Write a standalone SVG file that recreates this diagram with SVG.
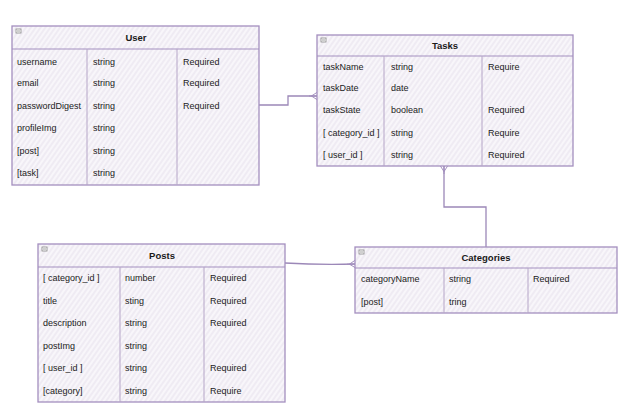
<svg xmlns="http://www.w3.org/2000/svg" width="626" height="416" viewBox="0 0 626 416">
<defs>
<pattern id="hatch" patternUnits="userSpaceOnUse" width="4" height="4" patternTransform="rotate(35)">
<rect width="4" height="4" fill="#f8f6fa"/>
<line x1="1" y1="0" x2="1" y2="4" stroke="#e7e1ec" stroke-width="1"/>
</pattern>
<marker id="crow" viewBox="0 0 10 10" refX="10" refY="5" markerWidth="8" markerHeight="8" orient="auto" markerUnits="userSpaceOnUse">
<path d="M0,5 L10,5 M3,5 L10,0.5 M3,5 L10,9.5" fill="none" stroke="#a08cbc" stroke-width="1.2"/>
</marker>
</defs>
<style>
.box{fill:url(#hatch);stroke:#a48fbf;stroke-width:1.3}
.hdr{fill:none;stroke:#a48fbf;stroke-width:1.2}
.col{stroke:#b6a6c8;stroke-width:1}
.t{font-family:"Liberation Sans",Arial,sans-serif;font-size:9px;fill:#222}
.h{font-family:"Liberation Sans",Arial,sans-serif;font-size:9.5px;font-weight:bold;fill:#1a1a1a;text-anchor:middle}
.ic{fill:#fff;stroke:#888;stroke-width:0.8}
.conn{fill:none;stroke:#9c88b8;stroke-width:1.3}
</style>
<rect width="626" height="416" fill="#ffffff"/>

<g id="connectors">
<path class="conn" d="M259,105 L288,105 L288,96 L317,96" marker-end="url(#crow)"/>
<path class="conn" d="M486,247 L486,207 L444,207 L444,166" marker-end="url(#crow)"/>
<path class="conn" d="M285,263 Q320,265 355,264" marker-end="url(#crow)"/>
</g>

<g id="user">
<rect class="box" x="12" y="26" width="247" height="159"/>
<line class="hdr" x1="12" y1="49" x2="259" y2="49"/>
<line class="col" x1="87" y1="49" x2="87" y2="185"/>
<line class="col" x1="177" y1="49" x2="177" y2="185"/>
<rect class="ic" x="16" y="29" width="5" height="4"/><line x1="17" y1="31" x2="20" y2="31" stroke="#888" stroke-width="0.8"/>
<text class="h" x="136" y="41">User</text>
<text class="t" x="17" y="65">username</text><text class="t" x="93" y="65">string</text><text class="t" x="183" y="65">Required</text>
<text class="t" x="17" y="86">email</text><text class="t" x="93" y="86">string</text><text class="t" x="183" y="86">Required</text>
<text class="t" x="17" y="109">passwordDigest</text><text class="t" x="93" y="109">string</text><text class="t" x="183" y="109">Required</text>
<text class="t" x="17" y="131">profileImg</text><text class="t" x="93" y="131">string</text>
<text class="t" x="17" y="154">[post]</text><text class="t" x="93" y="154">string</text>
<text class="t" x="17" y="176">[task]</text><text class="t" x="93" y="176">string</text>
</g>

<g id="tasks">
<rect class="box" x="317" y="35" width="256" height="131"/>
<line class="hdr" x1="317" y1="56" x2="573" y2="56"/>
<line class="col" x1="384" y1="56" x2="384" y2="166"/>
<line class="col" x1="482" y1="56" x2="482" y2="166"/>
<rect class="ic" x="321" y="38" width="5" height="4"/><line x1="322" y1="40" x2="325" y2="40" stroke="#888" stroke-width="0.8"/>
<text class="h" x="445" y="49">Tasks</text>
<text class="t" x="323" y="70">taskName</text><text class="t" x="391" y="70">string</text><text class="t" x="488" y="70">Require</text>
<text class="t" x="323" y="91">taskDate</text><text class="t" x="391" y="91">date</text>
<text class="t" x="323" y="113">taskState</text><text class="t" x="391" y="113">boolean</text><text class="t" x="488" y="113">Required</text>
<text class="t" x="323" y="136">[ category_id ]</text><text class="t" x="391" y="136">string</text><text class="t" x="488" y="136">Require</text>
<text class="t" x="323" y="158">[ user_id ]</text><text class="t" x="391" y="158">string</text><text class="t" x="488" y="158">Required</text>
</g>

<g id="posts">
<rect class="box" x="38" y="244" width="247" height="158"/>
<line class="hdr" x1="38" y1="267" x2="285" y2="267"/>
<line class="col" x1="120" y1="267" x2="120" y2="402"/>
<line class="col" x1="204" y1="267" x2="204" y2="402"/>
<rect class="ic" x="42" y="247" width="5" height="4"/><line x1="43" y1="249" x2="46" y2="249" stroke="#888" stroke-width="0.8"/>
<text class="h" x="162" y="259">Posts</text>
<text class="t" x="43" y="281">[ category_id ]</text><text class="t" x="125" y="281">number</text><text class="t" x="210" y="281">Required</text>
<text class="t" x="43" y="304">title</text><text class="t" x="125" y="304">sting</text><text class="t" x="210" y="304">Required</text>
<text class="t" x="43" y="326">description</text><text class="t" x="125" y="326">string</text><text class="t" x="210" y="326">Required</text>
<text class="t" x="43" y="349">postImg</text><text class="t" x="125" y="349">string</text>
<text class="t" x="43" y="371">[ user_id ]</text><text class="t" x="125" y="371">string</text><text class="t" x="210" y="371">Required</text>
<text class="t" x="43" y="394">[category]</text><text class="t" x="125" y="394">string</text><text class="t" x="210" y="394">Require</text>
</g>

<g id="categories">
<rect class="box" x="355" y="247" width="262" height="66"/>
<line class="hdr" x1="355" y1="268" x2="617" y2="268"/>
<line class="col" x1="444" y1="268" x2="444" y2="313"/>
<line class="col" x1="528" y1="268" x2="528" y2="313"/>
<rect class="ic" x="359" y="250" width="5" height="4"/><line x1="360" y1="252" x2="363" y2="252" stroke="#888" stroke-width="0.8"/>
<text class="h" x="486" y="261">Categories</text>
<text class="t" x="361" y="282">categoryName</text><text class="t" x="449" y="282">string</text><text class="t" x="533" y="282">Required</text>
<text class="t" x="361" y="305">[post]</text><text class="t" x="449" y="305">tring</text>
</g>
</svg>
